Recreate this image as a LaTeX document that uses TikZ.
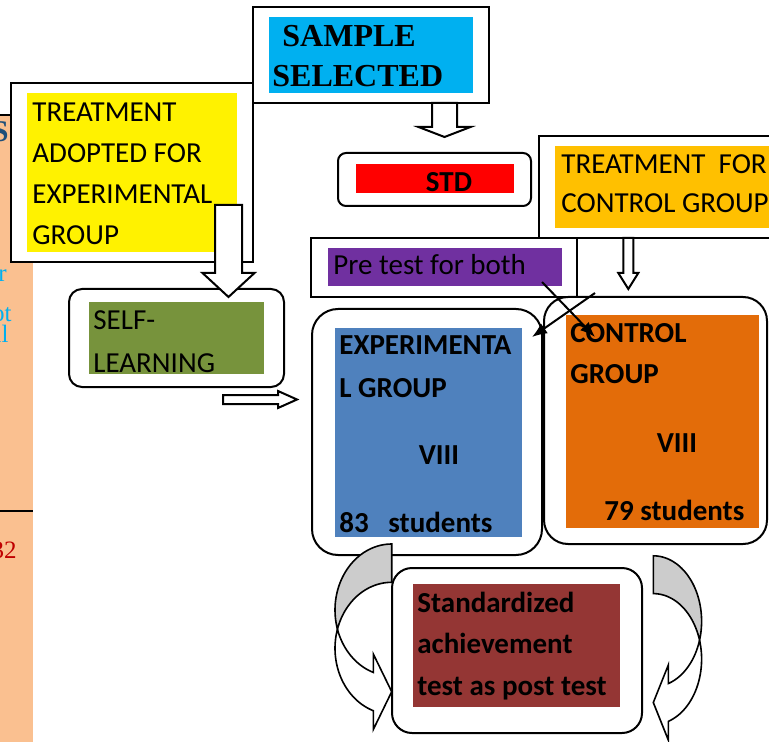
\documentclass[tikz,border=0pt]{standalone}
\usepackage{fontspec}
\setmainfont{Carlito}
\newfontfamily\timesfont{Liberation Serif}
\usetikzlibrary{arrows.meta,calc,fit}

\definecolor{peach}{HTML}{FAC090}
\definecolor{skyblue}{HTML}{00B0F0}
\definecolor{gold}{HTML}{FFC000}
\definecolor{violet}{HTML}{7030A0}
\definecolor{olive}{HTML}{77933C}
\definecolor{steel}{HTML}{4F81BD}
\definecolor{rust}{HTML}{E36C09}
\definecolor{maroon}{HTML}{943634}
\definecolor{navy}{HTML}{1F4E79}
\definecolor{darkred}{HTML}{C00000}

\begin{document}
\begin{tikzpicture}[x=0.5pt,y=-0.5pt,>={Latex[length=7.5pt,width=6pt]},
  frame/.style={draw,line width=1pt,fill=white,inner sep=0pt},
  rframe/.style={frame,rounded corners=#1},
  band/.style={inner sep=0pt,outer sep=0pt},
  txt/.style={anchor=base west,inner sep=0pt,align=left,
    font=\fontsize{14.5}{20.5}\selectfont},
  btxt/.style={txt,font=\fontsize{14.5}{20.5}\selectfont\bfseries},
  cut/.style={anchor=base east,inner sep=0pt,font=\timesfont\fontsize{12.5}{15}\selectfont},
  barrow/.style={draw,line width=1pt,fill=white,line join=miter},
  curl/.style={draw,line width=0.8pt,line join=miter}]
 \useasboundingbox (0,0) rectangle (769,742);
 \clip (0,0) rectangle (769,742);

 % page strip on the left
 \fill[peach] (0,115) rectangle (33,742);
 \draw[line width=1pt] (0,115) -- (11,115);
 \draw[line width=1pt] (0,511) -- (33,511);
 \node[anchor=base east,inner sep=0pt,text=navy,
    font=\timesfont\bfseries\fontsize{15}{18}\selectfont] (cuts) at (9,142) {S};
 \node[cut,text=skyblue] (cutr) at (7,282) {r};
 \node[cut,text=skyblue] (cutot) at (12,322) {ot};
 \node[cut,text=skyblue] (cutil) at (9,343) {il};
 \node[cut,text=darkred] (cutnum) at (17,558) {32};

 % sample (multi-line texts sit on their last baseline)
 \node[frame,fit={(253,7)(489,103)}] (sample) {};
 \node[band,fill=skyblue,fit={(269,17)(473,93)}] (samplefill) {};
 \node[txt,font=\timesfont\bfseries\fontsize{16}{20}\selectfont] (sampletxt)
    at (272,87) {\hspace*{5pt}SAMPLE\\SELECTED};

 % treatment, experimental group
 \node[frame,fit={(11,83)(253,262)}] (tadopt) {};
 \node[band,fill=yellow,fit={(27,93)(237,252)}] (tadoptfill) {};
 \node[txt] (tadopttxt) at (32,245) {TREATMENT\\ADOPTED FOR\\EXPERIMENTAL\\GROUP};

 % std
 \node[rframe=4pt,fit={(338,153)(531,206)}] (std) {};
 \node[band,fill=red,fit={(356,164)(514,193)}] (stdfill) {};
 \node[btxt,anchor=base] (stdtxt) at (449,192) {STD};

 % treatment, control group
 \node[frame,fit={(539,136)(800,238)}] (tctrl) {};
 \node[band,fill=gold,fit={(555,146)(800,228)}] (tctrlfill) {};
 \node[txt,font=\fontsize{14.5}{19.6}\selectfont] (tctrltxt)
    at (561,213) {TREATMENT\ \ FOR\\CONTROL GROUP};

 % pre test
 \node[frame,fit={(311,238)(577,297)}] (pre) {};
 \node[band,fill=violet,fit={(328,248)(562,286)}] (prefill) {};
 \node[txt] (pretxt) at (333,275) {Pre test for both};

 % self learning
 \node[rframe=6.5pt,fit={(69,289)(284,387)}] (self) {};
 \node[band,fill=olive,fit={(89,302)(264,374)}] (selffill) {};
 \node[txt,font=\fontsize{14.5}{21}\selectfont] (selftxt) at (93,372) {SELF-\\LEARNING};

 % experimental group
 \node[rframe=13pt,fit={(312,309)(542,555)}] (expg) {};
 \node[band,fill=steel,fit={(335,328)(522,537)}] (expgfill) {};
 \node[btxt,font=\fontsize{14.5}{21}\selectfont\bfseries] (expgtxt)
    at (339,397) {EXPERIMENTA\\L GROUP};
 \node[btxt,anchor=base] (expgcls) at (439,464) {VIII};
 \node[btxt] (expgnum) at (339,532) {83\ \ \ students};

 % control group
 \node[rframe=12pt,fit={(544,297)(767,544)}] (ctrl) {};
 \node[band,fill=rust,fit={(566,315)(759,528)}] (ctrlfill) {};
 \node[btxt] (ctrltxt) at (570,383) {CONTROL\\GROUP};
 \node[btxt,anchor=base] (ctrlcls) at (677,452) {VIII};
 \node[btxt] (ctrlnum) at (604,520) {79 students};

 % post test
 \node[rframe=10pt,fit={(392,568)(642,733)}] (post) {};
 \node[band,fill=maroon,fit={(413,584)(620,707)}] (postfill) {};
 \node[btxt,font=\fontsize{14.5}{20.75}\selectfont\bfseries] (posttxt)
    at (417,695) {Standardized\\achievement\\test as post test};

 % block arrows
 \coordinate (sa) at (444.5,103);
 \coordinate (sb) at (444.5,137);
 \coordinate (ea) at (228.5,205);
 \coordinate (eb) at (228.5,297);
 \coordinate (ca) at (628.3,238);
 \coordinate (cb) at (628.3,289);
 \foreach \s/\e/\w/\hw/\hl in {sa/sb/12.5/26/10,ea/eb/13.5/26/24,ca/cb/5/10/16}
   \draw[barrow] ($(\s)+(-\w,0)$) -- ($(\s)+(\w,0)$) -- ($(\e)+(\w,-\hl)$)
     -- ($(\e)+(\hw,-\hl)$) -- (\e) -- ($(\e)+(-\hw,-\hl)$)
     -- ($(\e)+(-\w,-\hl)$) -- cycle;
 \coordinate (ra) at (223,399.5);
 \coordinate (rb) at (297,399.5);
 \draw[barrow] ($(ra)+(0,-4.5)$) -- ($(rb)+(-19,-4.5)$) -- ($(rb)+(-19,-8.5)$)
   -- (rb) -- ($(rb)+(-19,8.5)$) -- ($(rb)+(-19,4.5)$) -- ($(ra)+(0,4.5)$) -- cycle;

 % pre test to both groups
 \coordinate (p1) at (542,282);
 \coordinate (p1e) at (595,337);
 \coordinate (p2) at (595,293);
 \coordinate (p2e) at (532,337);
 \draw[->,line width=1pt] (p1) -- (p1e);
 \draw[->,line width=1pt] (p2) -- (p2e);

 % curved arrows to the post test
 \coordinate (tipl) at (391.7,691.7);
 \coordinate (tipr) at (653.3,702.5);
 \draw[curl,fill=black!20]
   plot[domain=270:163.14,samples=40] ({391.7+56.7*cos(\x)},{610+66*sin(\x)})
   -- plot[domain=196.86:270,samples=30] ({391.7+56.7*cos(\x)},{648.3+66*sin(\x)})
   -- cycle;
 \draw[curl,fill=white]
   plot[domain=163.14:108.9,samples=30] ({391.7+56.7*cos(\x)},{610+66*sin(\x)})
   -- (373.3,654) -- (tipl) -- (373.3,729.5)
   -- plot[domain=108.9:196.86,samples=30] ({391.7+56.7*cos(\x)},{648.3+66*sin(\x)})
   -- cycle;
 \draw[curl,fill=black!20]
   plot[domain=-90:16.77,samples=40] ({653.3+48.3*cos(\x)},{621.3+65.5*sin(\x)})
   -- plot[domain=-16.77:-90,samples=30] ({653.3+48.3*cos(\x)},{659.1+65.5*sin(\x)})
   -- cycle;
 \draw[curl,fill=white]
   plot[domain=16.77:71.9,samples=30] ({653.3+48.3*cos(\x)},{621.3+65.5*sin(\x)})
   -- (668.3,665) -- (tipr) -- (668.3,740)
   -- plot[domain=71.9:-16.77,samples=30] ({653.3+48.3*cos(\x)},{659.1+65.5*sin(\x)})
   -- cycle;
\end{tikzpicture}
\end{document}
